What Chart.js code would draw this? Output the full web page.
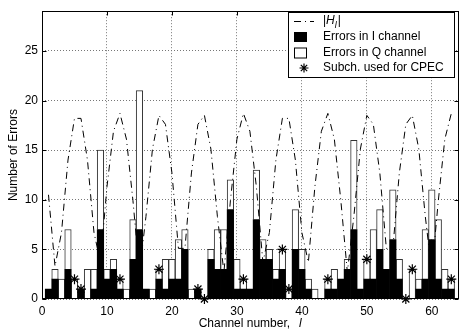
<!DOCTYPE html>
<html>
<head>
<meta charset="utf-8">
<script src="https://cdn.jsdelivr.net/npm/chart.js@4.4.0/dist/chart.umd.min.js"></script>
<style>
html, body { margin: 0; padding: 0; overflow: hidden; background: #fff; }
#wrap { width: 460px; height: 336px; overflow: hidden; }
</style>
</head>
<body>
<div id="wrap"><canvas id="errChart" width="464" height="336"></canvas></div>
<script>
// subcarrier index 1..63
const channels = Array.from({ length: 63 }, (_, i) => i + 1);

// errors per subcarrier, I and Q branch
const errI = [1, 2, 0, 3, 0, 1, 0, 1, 7, 2,  3, 1, 0, 4, 7, 1, 0, 2, 1, 2,
              2, 5, 0, 1, 0, 4, 3, 3, 9, 1,  1, 1, 8, 4, 4, 2, 3, 0, 5, 3,
              1, 0, 0, 1, 1, 2, 3, 7, 1, 2,  2, 5, 3, 6, 2, 0, 0, 1, 2, 6,
              2, 1, 1];
const errQ = [0, 1, 2, 4, 2, 0, 3, 2, 8, 1,  1, 1, 1, 4, 14, 0, 1, 1, 3, 2,
              4, 2, 1, 0, 0, 1, 4, 4, 3, 3,  1, 0, 5, 2, 1, 1, 2, 1, 4, 2,
              1, 1, 0, 1, 2, 0, 1, 9, 0, 2,  5, 4, 0, 5, 2, 0, 3, 1, 5, 5,
              6, 2, 1];

// channel magnitude |H_l| (scaled)
const chanGain = [10.5, 3.3, 6.7, 14.0, 18.2, 18.2, 14.0, 6.7, 3.7, 11.3,
                  16.9, 18.7, 16.1, 9.9, 2.7, 8.3, 15.1, 18.5, 17.6, 12.7,
                  5.1, 5.1, 12.7, 17.6, 18.5, 15.1, 8.3, 2.7, 9.9, 16.1,
                  18.7, 16.9, 11.3, 3.7, 6.7, 14.0, 18.2, 18.2, 14.0, 6.7,
                  3.7, 11.3, 16.9, 18.7, 16.1, 9.9, 2.7, 8.3, 15.1, 18.5,
                  17.6, 12.7, 5.1, 5.1, 12.7, 17.6, 18.5, 15.1, 8.3, 2.7,
                  9.9, 16.1, 18.7];

// subcarriers picked for common phase error estimation
const cpecChannels = [5, 6, 12, 18, 24, 25, 31, 37, 38, 44, 50, 56, 57, 63];

const xTicks = [0, 10, 20, 30, 40, 50, 60];
const yTicks = [0, 5, 10, 15, 20, 25];

const FONT = "'Liberation Sans', Arial, Helvetica, sans-serif";
const DASHDOT = [7, 4, 1, 4];
Chart.defaults.font.family = FONT;
Chart.defaults.font.size = 12;
Chart.defaults.color = '#000';

function drawStar(ctx, x, y, r) {
    const d = r * Math.SQRT1_2;
    ctx.beginPath();
    ctx.moveTo(x - r, y); ctx.lineTo(x + r, y);
    ctx.moveTo(x, y - r); ctx.lineTo(x, y + r);
    ctx.moveTo(x - d, y - d); ctx.lineTo(x + d, y + d);
    ctx.moveTo(x - d, y + d); ctx.lineTo(x + d, y - d);
    ctx.stroke();
}

// axes box, inner ticks, axis titles and the legend box
const framePlugin = {
    id: 'frame',
    afterDraw(chart) {
        const ctx = chart.ctx, a = chart.chartArea;
        const xs = chart.scales.x, ys = chart.scales.y;
        const L = Math.round(a.left) + 0.5, R = Math.round(a.right) + 0.5;
        const T = Math.round(a.top) + 0.5, B = Math.round(a.bottom) - 0.5;
        ctx.save();
        ctx.strokeStyle = '#000';
        ctx.lineWidth = 1;
        ctx.strokeRect(L, T, R - L, B - T);
        ctx.beginPath();
        xTicks.forEach(v => {
            const p = Math.round(xs.getPixelForValue(v)) + 0.5;
            ctx.moveTo(p, B); ctx.lineTo(p, B - 4);
            ctx.moveTo(p, T); ctx.lineTo(p, T + 4);
        });
        yTicks.forEach(v => {
            const p = Math.round(ys.getPixelForValue(v)) + 0.5;
            ctx.moveTo(L, p); ctx.lineTo(L + 4, p);
            ctx.moveTo(R, p); ctx.lineTo(R - 4, p);
        });
        ctx.stroke();

        // axis titles
        ctx.fillStyle = '#000';
        ctx.font = '12px ' + FONT;
        ctx.textBaseline = 'middle';
        ctx.textAlign = 'left';
        const xt = 'Channel number,';
        const w1 = ctx.measureText(xt).width;
        const cx = (a.left + a.right) / 2 - 1;
        const x0 = cx - (w1 + 9) / 2;
        ctx.fillText(xt, x0, 324);
        ctx.font = 'italic 12px ' + FONT;
        ctx.fillText('l', x0 + w1 + 9, 324);

        ctx.save();
        ctx.translate(14, (a.top + a.bottom) / 2);
        ctx.rotate(-Math.PI / 2);
        ctx.font = '12px ' + FONT;
        ctx.textAlign = 'center';
        ctx.fillText('Number of Errors', 0, 0);
        ctx.restore();

        // legend
        const bx = 288.5, by = 12.5, bw = 166, bh = 65;
        ctx.fillStyle = '#fff';
        ctx.fillRect(bx, by, bw, bh);
        ctx.strokeRect(bx, by, bw, bh);
        const tx = 323, rows = [21, 37, 52.5, 68];

        ctx.setLineDash(DASHDOT);
        ctx.beginPath();
        ctx.moveTo(294, rows[0] + 0.5); ctx.lineTo(314, rows[0] + 0.5);
        ctx.stroke();
        ctx.setLineDash([]);

        ctx.fillStyle = '#000';
        ctx.fillRect(294, rows[1] - 5, 13, 10);
        ctx.fillStyle = '#fff';
        ctx.fillRect(294.5, rows[2] - 4.5, 12, 10);
        ctx.strokeRect(294.5, rows[2] - 4.5, 12, 10);
        ctx.lineWidth = 1.2;
        drawStar(ctx, 304, rows[3], 4.5);
        ctx.lineWidth = 1;

        ctx.fillStyle = '#000';
        ctx.font = '12px ' + FONT;
        ctx.textAlign = 'left';
        let px = tx;
        ctx.fillText('|', px, rows[0]);
        px += ctx.measureText('|').width;
        ctx.font = 'italic 12px ' + FONT;
        ctx.fillText('H', px, rows[0]);
        px += ctx.measureText('H').width;
        ctx.font = 'italic 9px ' + FONT;
        ctx.fillText('l', px, rows[0] + 4);
        px += ctx.measureText('l').width + 1;
        ctx.font = '12px ' + FONT;
        ctx.fillText('|', px, rows[0]);
        ctx.fillText('Errors in I channel', tx, rows[1]);
        ctx.fillText('Errors in Q channel', tx, rows[2]);
        ctx.fillText('Subch. used for CPEC', tx, rows[3]);
        ctx.restore();
    }
};

const ctx = document.getElementById('errChart').getContext('2d');
new Chart(ctx, {
    type: 'bar',
    data: {
        datasets: [
            {
                type: 'scatter',
                label: 'Subch. used for CPEC',
                data: cpecChannels.map(c => ({ x: c, y: errI[c - 1] + errQ[c - 1] })),
                pointStyle: 'star',
                pointRadius: 5,
                borderColor: '#000',
                backgroundColor: '#000',
                borderWidth: 1.2,
                clip: false,
                order: 0
            },
            {
                type: 'line',
                label: '|H_l|',
                data: channels.map((c, i) => ({ x: c, y: chanGain[i] })),
                borderColor: '#000',
                borderWidth: 1,
                borderDash: DASHDOT,
                pointRadius: 0,
                fill: false,
                tension: 0,
                order: 1
            },
            {
                label: 'Errors in I channel',
                data: channels.map((c, i) => ({ x: c, y: errI[i] })),
                backgroundColor: '#000',
                borderColor: '#000',
                borderWidth: 0,
                barPercentage: 1,
                categoryPercentage: 1,
                order: 2
            },
            {
                label: 'Errors in Q channel',
                data: channels.map((c, i) => ({ x: c, y: errQ[i] })),
                backgroundColor: '#fff',
                borderColor: '#333',
                borderWidth: 1,
                barPercentage: 1,
                categoryPercentage: 1,
                order: 3
            }
        ]
    },
    options: {
        responsive: false,
        animation: false,
        devicePixelRatio: 1,
        layout: { padding: { top: 5, right: 3, left: 0, bottom: 0 } },
        plugins: { legend: { display: false }, tooltip: { enabled: false } },
        scales: {
            x: {
                type: 'linear', min: 0, max: 64, offset: false, stacked: true,
                afterBuildTicks: s => { s.ticks = xTicks.map(v => ({ value: v })); },
                afterFit: s => { s.height = 37; },
                grid: { color: '#777', drawTicks: false, offset: false },
                border: { display: false, dash: [1, 2] },
                ticks: { padding: 5, autoSkip: false, maxRotation: 0 }
            },
            y: {
                type: 'linear', min: 0, max: 29, stacked: true,
                afterBuildTicks: s => { s.ticks = yTicks.map(v => ({ value: v })); },
                afterFit: s => { s.width = 42; },
                grid: { color: '#777', drawTicks: false },
                border: { display: false, dash: [1, 2] },
                ticks: { padding: 4 }
            }
        }
    },
    plugins: [framePlugin]
});
</script>
</body>
</html>
